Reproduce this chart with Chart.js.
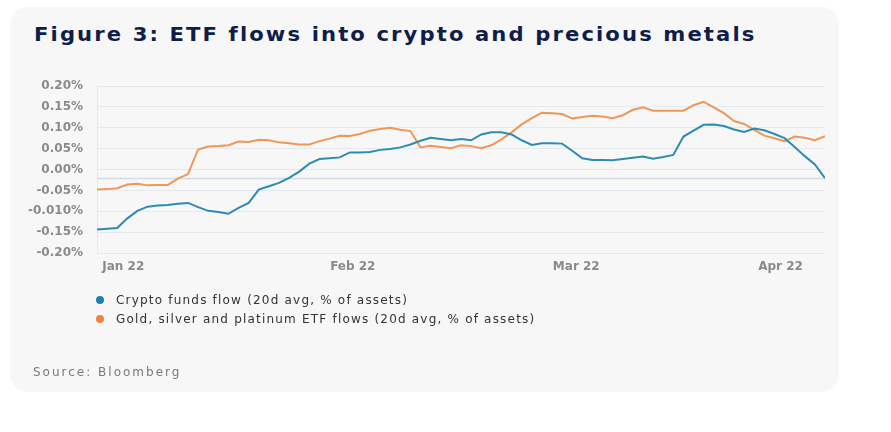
<!DOCTYPE html>
<html>
<head>
<meta charset="utf-8">
<script src="https://cdn.jsdelivr.net/npm/chart.js@4/dist/chart.umd.min.js"></script>
<style>
  html, body { margin:0; padding:0; background:#ffffff; width:891px; height:432px; overflow:hidden; }
  #card { position:absolute; left:10px; top:7px; width:829px; height:385px; background:#f7f7f8; border-radius:18px; }
  #title { position:absolute; left:34px; top:22px; font-family:"DejaVu Sans", sans-serif; font-weight:bold; font-size:20px; letter-spacing:2px; color:#0e1e48; white-space:nowrap; transform:scaleX(1.056); transform-origin:0 0; }
  #chartWrap { position:absolute; left:0; top:0; width:891px; height:432px; }
  #legend { position:absolute; left:96px; top:292px; font-family:"DejaVu Sans", sans-serif; font-size:12px; color:#333; }
  .li { position:relative; height:19px; line-height:16px; padding-left:20px; white-space:nowrap; letter-spacing:1.2px; }
  .dot { position:absolute; left:0px; top:4px; width:8px; height:8px; border-radius:50%; }
  #source { position:absolute; left:33px; top:365px; font-family:"DejaVu Sans", sans-serif; font-size:12px; color:#7a7a7a; letter-spacing:2px; white-space:nowrap; }
</style>
</head>
<body>
<div id="card"></div>
<div id="title">Figure 3: ETF flows into crypto and precious metals</div>
<div id="chartWrap"><canvas id="c" width="891" height="432"></canvas></div>
<div id="legend"></div>
<div id="source">Source: Bloomberg</div>
<script>
// ---- data ----
const seriesNames = ["Crypto funds flow (20d avg, % of assets)", "Gold, silver and platinum ETF flows (20d avg, % of assets)"];
const seriesColors = ["#2e8bb2", "#f29658"];
const legendDotColors = ["#1f7fae", "#f0843d"];

const cryptoFlow = [
  -0.144,-0.142,-0.140,-0.117,-0.099,-0.089,-0.086,-0.085,-0.082,-0.080,
  -0.090,-0.099,-0.102,-0.106,-0.092,-0.080,-0.048,-0.040,-0.032,-0.020,
  -0.005,0.014,0.025,0.027,0.029,0.041,0.041,0.042,0.047,0.049,
  0.053,0.060,0.069,0.076,0.073,0.070,0.073,0.070,0.084,0.089,
  0.089,0.084,0.070,0.059,0.063,0.063,0.062,0.045,0.027,0.023,
  0.023,0.022,0.025,0.028,0.031,0.026,0.030,0.035,0.079,0.093,
  0.107,0.108,0.104,0.096,0.090,0.098,0.094,0.085,0.075,0.054,
  0.032,0.012,-0.021
];
const metalsFlow = [
  -0.048,-0.047,-0.045,-0.036,-0.034,-0.038,-0.037,-0.037,-0.022,-0.011,
  0.048,0.055,0.056,0.058,0.067,0.066,0.071,0.070,0.065,0.063,
  0.060,0.060,0.068,0.074,0.081,0.080,0.085,0.093,0.097,0.100,
  0.095,0.092,0.053,0.057,0.054,0.051,0.058,0.056,0.051,0.058,
  0.072,0.089,0.108,0.123,0.136,0.135,0.133,0.122,0.126,0.129,
  0.127,0.123,0.130,0.143,0.149,0.141,0.141,0.141,0.141,0.154,
  0.162,0.149,0.135,0.116,0.109,0.095,0.081,0.075,0.068,0.079,
  0.076,0.070,0.080
];
const xTickPositions = [2.6, 25.3, 47.4, 67.6];
const xTickLabels = ["Jan 22", "Feb 22", "Mar 22", "Apr 22"];
const yTickValues = [-0.20, -0.15, -0.10, -0.05, 0.00, 0.05, 0.10, 0.15, 0.20];
const yTickLabels = ["-0.20%", "-0.15%", "-0.010%", "-0.05%", "0.00%", "0.05%", "0.10%", "0.15%", "0.20%"];
const baselineValue = -0.02;

// ---- chart ----
const toPts = arr => arr.map((v, i) => ({ x: i, y: v }));
const gridColor = "#e3eaf1";

const baselinePlugin = {
  id: "baseline",
  beforeDatasetsDraw(chart) {
    const { ctx, chartArea, scales } = chart;
    const y = Math.round(scales.y.getPixelForValue(baselineValue)) + 0.5;
    ctx.save();
    ctx.strokeStyle = "#d4dce5";
    ctx.lineWidth = 1.5;
    ctx.beginPath();
    ctx.moveTo(chartArea.left, y);
    ctx.lineTo(chartArea.right, y);
    ctx.stroke();
    ctx.restore();
  }
};

const chart = new Chart(document.getElementById("c"), {
  type: "line",
  data: {
    datasets: [
      { label: seriesNames[0], data: toPts(cryptoFlow), borderColor: seriesColors[0], borderWidth: 2, pointRadius: 0, tension: 0, fill: false },
      { label: seriesNames[1], data: toPts(metalsFlow), borderColor: seriesColors[1], borderWidth: 2, pointRadius: 0, tension: 0, fill: false }
    ]
  },
  options: {
    responsive: false,
    animation: false,
    layout: { padding: { left: 0, top: 86, right: 66, bottom: 149 } },
    plugins: { legend: { display: false }, tooltip: { enabled: false }, title: { display: false } },
    scales: {
      x: {
        type: "linear", min: 0, max: cryptoFlow.length - 1,
        grid: { display: false, drawTicks: false },
        border: { display: false },
        afterBuildTicks: s => { s.ticks = xTickPositions.map(v => ({ value: v })); },
        afterFit: s => { s.height = 30; },
        ticks: {
          autoSkip: false, maxRotation: 0, padding: 7,
          color: "#8a8a8a", font: { family: "DejaVu Sans", size: 12, weight: "bold" },
          callback: (v, i) => xTickLabels[i]
        }
      },
      y: {
        min: -0.2, max: 0.2,
        afterBuildTicks: s => { s.ticks = yTickValues.map(v => ({ value: v })); },
        afterFit: s => { s.width = 97; },
        grid: { color: gridColor, lineWidth: 1, drawTicks: false },
        border: { display: true, color: gridColor, width: 1 },
        ticks: {
          padding: 14, color: "#8a8a8a", font: { family: "DejaVu Sans", size: 12, weight: "bold" },
          callback: (v, i) => yTickLabels[i]
        }
      }
    }
  },
  plugins: [baselinePlugin]
});

// HTML legend from datasets
const lg = document.getElementById("legend");
chart.data.datasets.forEach((d, i) => {
  const row = document.createElement("div");
  row.className = "li";
  const dot = document.createElement("span");
  dot.className = "dot";
  dot.style.background = legendDotColors[i];
  row.appendChild(dot);
  row.appendChild(document.createTextNode(d.label));
  lg.appendChild(row);
});
</script>
</body>
</html>
